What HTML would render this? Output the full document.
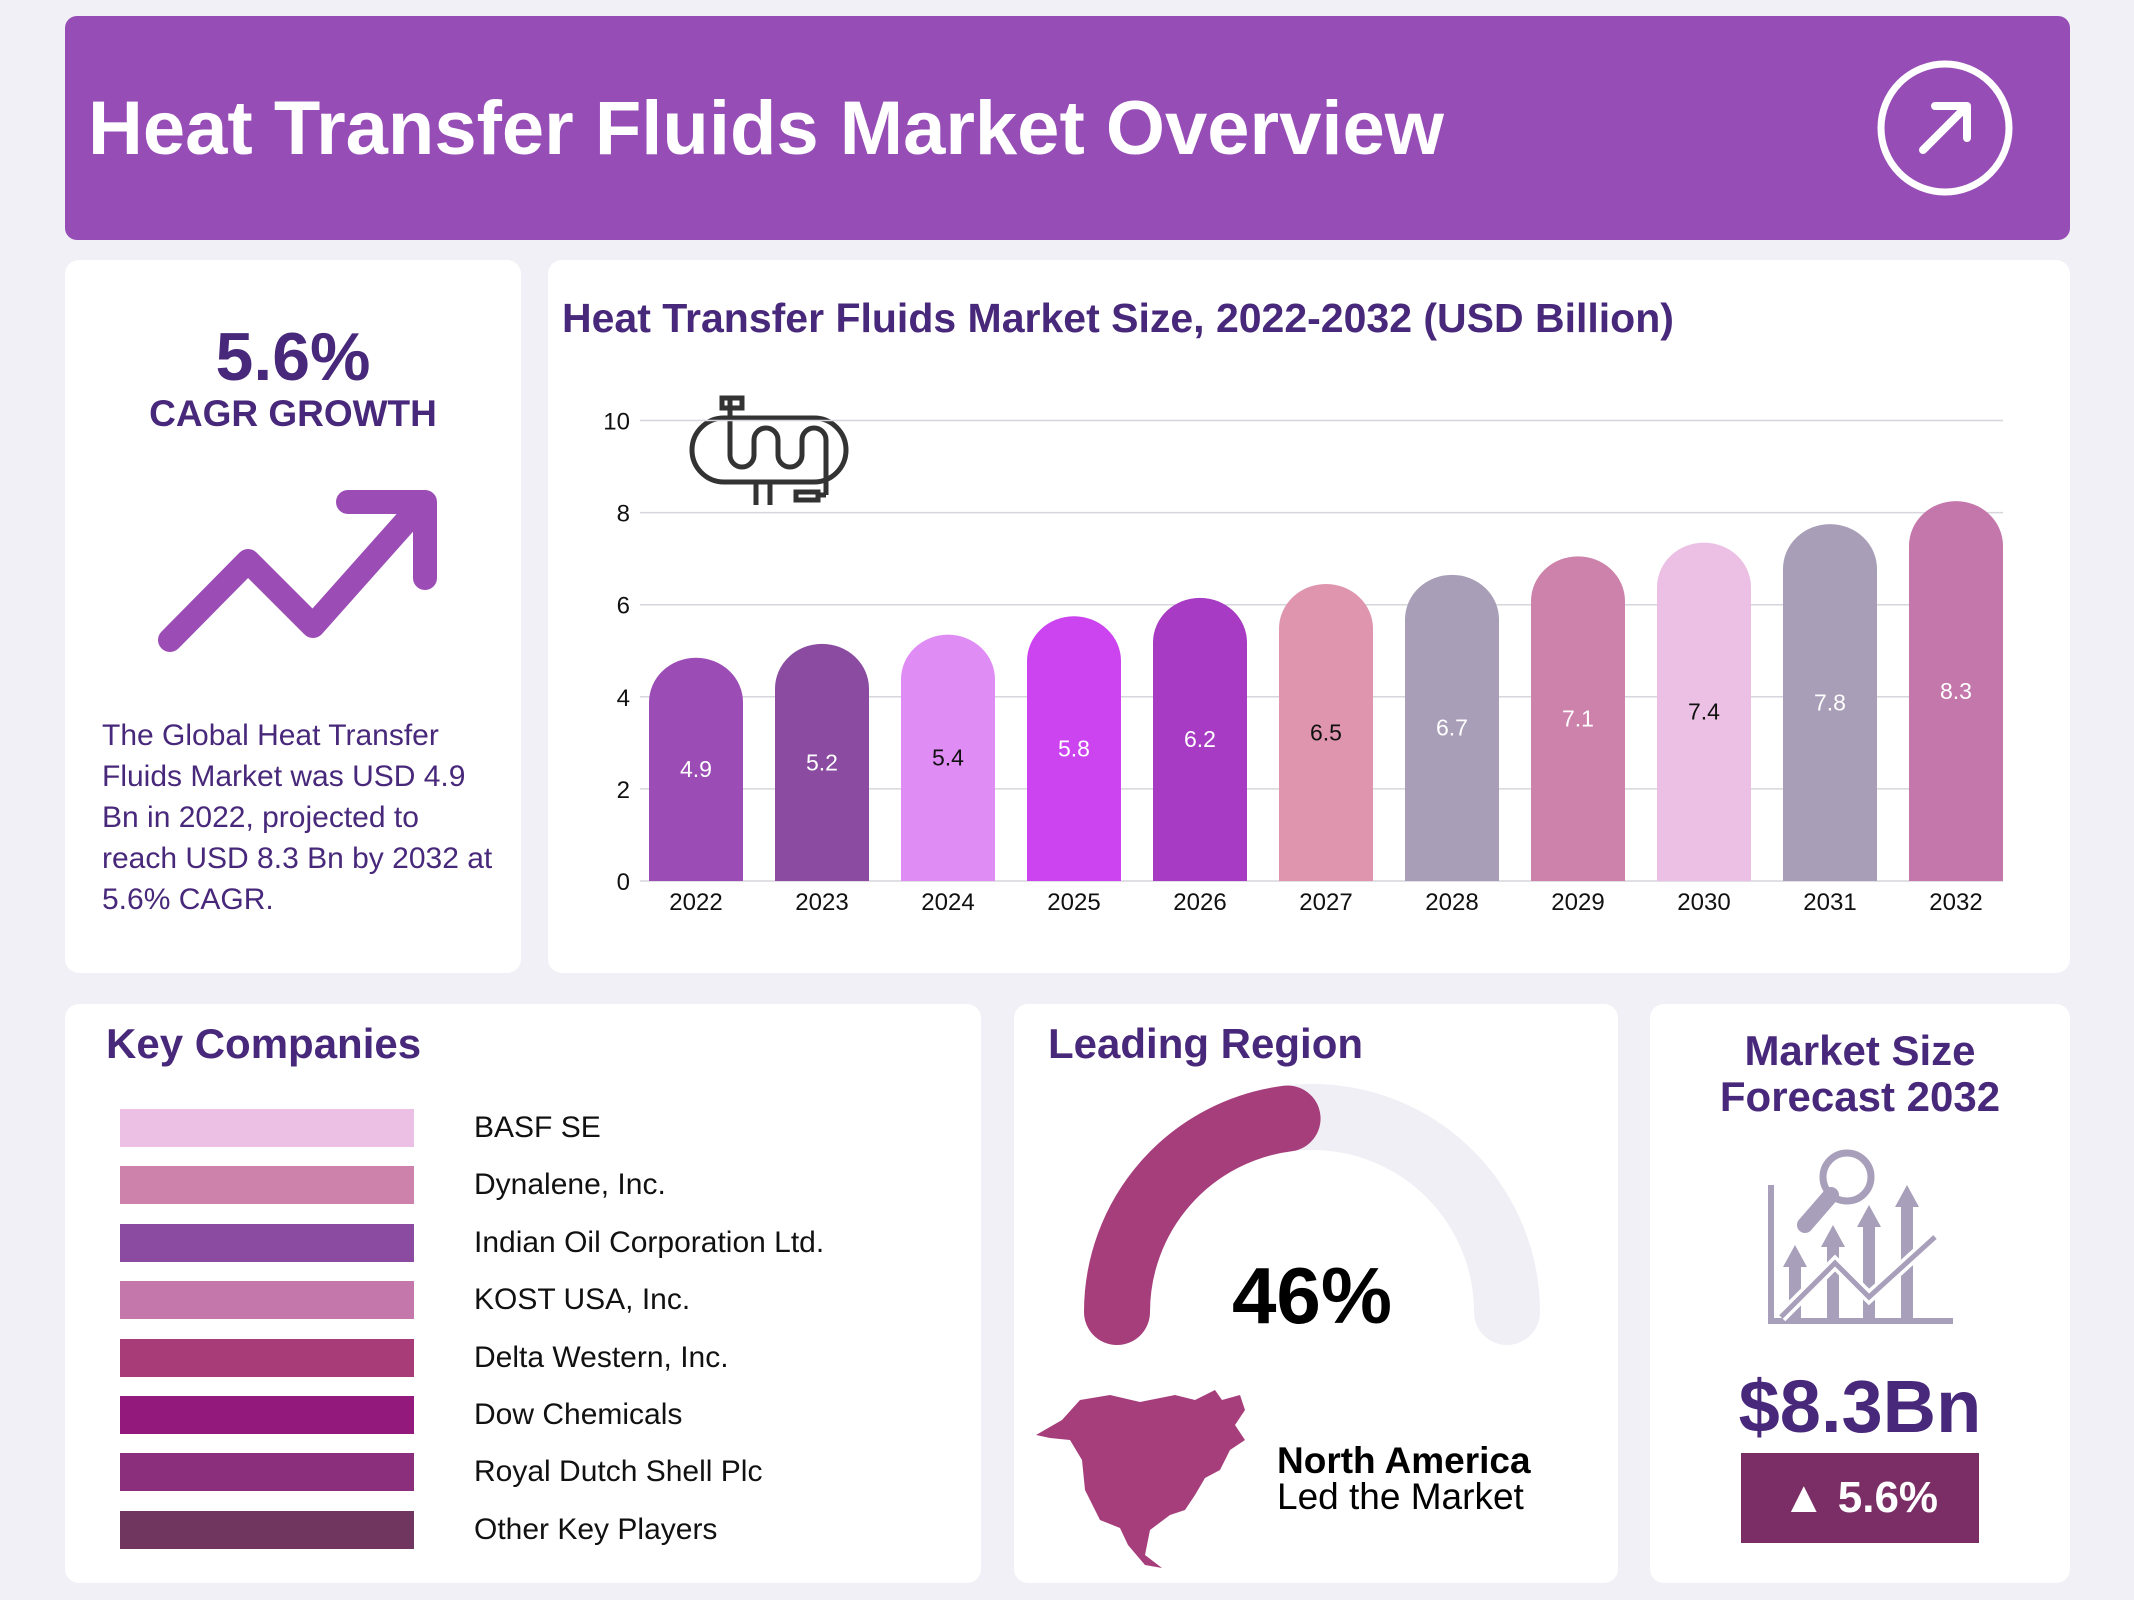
<!DOCTYPE html>
<html><head><meta charset="utf-8"><style>
body{margin:0;width:2134px;height:1600px;background:#f1f0f6;font-family:"Liberation Sans",sans-serif;position:relative;overflow:hidden}
.p{position:absolute;background:#fff;border-radius:14px}
.t{position:absolute;white-space:nowrap}
</style></head><body>
<div class="p" style="left:65px;top:16px;width:2005px;height:224px;background:#974db6;border-radius:12px"></div>
<div class="t" style="left:88px;top:84px;font-size:76px;font-weight:bold;color:#fff;line-height:90px">Heat Transfer Fluids Market Overview</div>
<svg style="position:absolute;left:1875px;top:58px" width="140" height="140"><circle cx="70" cy="70" r="64" fill="none" stroke="#fff" stroke-width="7"/><path d="M48 92 L92 48 M60 48 H92 V80" fill="none" stroke="#fff" stroke-width="8" stroke-linecap="round" stroke-linejoin="round"/></svg>

<div class="p" style="left:65px;top:260px;width:456px;height:713px"></div>
<div class="t" style="left:65px;width:456px;text-align:center;top:318px;font-size:68px;font-weight:bold;color:#48287a">5.6%</div>
<div class="t" style="left:65px;width:456px;text-align:center;top:393px;font-size:37px;font-weight:bold;color:#48287a">CAGR GROWTH</div>
<svg style="position:absolute;left:0;top:0" width="521" height="700"><polyline points="170,640 248,561 313,626 410,517" fill="none" stroke="#9b4db5" stroke-width="24" stroke-linecap="round" stroke-linejoin="round"/><path d="M348 502 H425 V578" fill="none" stroke="#9b4db5" stroke-width="24" stroke-linecap="round" stroke-linejoin="round"/></svg>
<div style="position:absolute;left:102px;top:715px;width:395px;font-size:30px;line-height:41px;color:#48287a">The Global Heat Transfer Fluids Market was USD 4.9 Bn in 2022, projected to reach USD 8.3 Bn by 2032 at 5.6% CAGR.</div>

<div class="p" style="left:548px;top:260px;width:1522px;height:713px"></div>
<div class="t" style="left:562px;top:295px;font-size:41px;font-weight:bold;color:#48287a">Heat Transfer Fluids Market Size, 2022-2032 (USD Billion)</div>
<svg id="chart" style="position:absolute;left:0;top:0" width="2134" height="980">
<g fill="none" stroke="#333" stroke-width="5">
<rect x="692" y="418" width="154" height="64" rx="32"/><path d="M730 400 V455 a12 12 0 0 0 24 0 V440 a12 12 0 0 1 24 0 V455 a12 12 0 0 0 24 0 V440 a12 12 0 0 1 24 0 V495"/><rect x="722" y="398" width="20" height="10"/><path d="M756 482 V505 M770 482 V505 M826 495 H818"/><rect x="796" y="492" width="22" height="8"/></g>
</svg>

<div class="p" style="left:65px;top:1004px;width:916px;height:579px"></div>
<div class="t" style="left:106px;top:1020px;font-size:42px;font-weight:bold;color:#48287a">Key Companies</div>
<div id="companies"></div>

<div class="p" style="left:1014px;top:1004px;width:604px;height:579px"></div>
<div class="t" style="left:1048px;top:1020px;font-size:42px;font-weight:bold;color:#48287a">Leading Region</div>
<svg style="position:absolute;left:0;top:0" width="2134" height="1600">
<path d="M1117 1312 A195 195 0 0 1 1507 1312" fill="none" stroke="#f0eff5" stroke-width="66" stroke-linecap="round"/>
<path id="gaugeArc" fill="none" stroke="#a63e7b" stroke-width="66" stroke-linecap="round"/>
<path fill="#a63e7b" d="M1036 1435 L1062 1420 L1080 1400 L1110 1395 L1140 1402 L1175 1395 L1195 1400 L1215 1390 L1222 1400 L1240 1395 L1245 1410 L1235 1425 L1245 1440 L1230 1450 L1220 1470 L1205 1478 L1195 1495 L1185 1510 L1170 1515 L1150 1530 L1145 1555 L1162 1568 L1145 1565 L1128 1545 L1120 1528 L1100 1520 L1085 1490 L1082 1460 L1070 1440 L1050 1438 Z"/>
</svg>
<div class="t" style="left:1212px;width:200px;text-align:center;top:1250px;font-size:80px;font-weight:bold;color:#000">46%</div>
<div class="t" style="left:1277px;top:1440px;font-size:37px;font-weight:bold;color:#000">North America</div>
<div class="t" style="left:1277px;top:1476px;font-size:37px;color:#000">Led the Market</div>

<div class="p" style="left:1650px;top:1004px;width:420px;height:579px"></div>
<div class="t" style="left:1650px;width:420px;text-align:center;top:1028px;font-size:42px;font-weight:bold;color:#48287a;line-height:46px">Market Size<br>Forecast 2032</div>
<svg style="position:absolute;left:1765px;top:1145px" width="195" height="182" fill="#a89fba" stroke="#a89fba">
<path d="M6 40 V176 H188" fill="none" stroke-width="6"/><circle cx="82" cy="32" r="24" fill="none" stroke-width="7"/><path d="M66 50 L40 80" stroke-width="16" stroke-linecap="round"/>
<path d="M30 176 V120 M68 176 V100 M104 176 V80 M142 176 V60" stroke-width="12"/><path d="M18 122 L30 100 L42 122Z M56 102 L68 80 L80 102Z M92 82 L104 60 L116 82Z M130 62 L142 40 L154 62Z" stroke="none"/>
<polyline points="16,172 70,118 104,152 170,92" fill="none" stroke="#fff" stroke-width="12"/><polyline points="16,172 70,118 104,152 170,92" fill="none" stroke-width="5"/></svg>
<div class="t" style="left:1650px;width:420px;text-align:center;top:1364px;font-size:74px;font-weight:bold;color:#48287a">$8.3Bn</div>
<div style="position:absolute;left:1741px;top:1453px;width:238px;height:90px;background:#7b2d65;color:#fff;font-size:44px;font-weight:bold;line-height:90px;text-align:center">▲ 5.6%</div>

<script>
const years=["2022","2023","2024","2025","2026","2027","2028","2029","2030","2031","2032"];
const values=[4.9,5.2,5.4,5.8,6.2,6.5,6.7,7.1,7.4,7.8,8.3];
const yTicks=[0,2,4,6,8,10];
const barColors=["#9b4db5","#8a4ba0","#e08cf5","#cc44f0","#a83bc4","#de95ad","#a89eb8","#cc82aa","#ecc0e5","#a89eb8","#c477ab"];
const darkLabel=[false,false,true,false,false,true,false,false,true,false,false];
const companies=["BASF SE","Dynalene, Inc.","Indian Oil Corporation Ltd.","KOST USA, Inc.","Delta Western, Inc.","Dow Chemicals","Royal Dutch Shell Plc","Other Key Players"];
const companyColors=["#ecc0e5","#cc82aa","#8a4ba0","#c477ab","#a83c78","#931a7c","#8b2f7c","#70365f"];
const regionShare=46;

const NS="http://www.w3.org/2000/svg",svg=document.getElementById('chart');
const y=v=>881-v*46.05, x=i=>649+i*126, bw=94;
function mk(t,a){const e=document.createElementNS(NS,t);for(const k in a)e.setAttribute(k,a[k]);svg.appendChild(e);return e;}
yTicks.forEach(t=>{
 const l=mk('line',{x1:640,x2:2003,y1:y(t),y2:y(t),stroke:'#d6d6dc','stroke-width':1.5});
 
 
 const tx=mk('text',{x:630,y:y(t)+9,'text-anchor':'end','font-size':24,fill:'#111'});tx.textContent=t;
 
 
});
values.forEach((v,i)=>{
 const x0=x(i),top=y(v),r=bw/2,b=y(0);
 const p=mk('path',{d:`M${x0} ${b} V${top+r} A${r} ${r*0.95} 0 0 1 ${x0+bw} ${top+r} V${b} Z`,fill:barColors[i]});
 
 
 const vl=mk('text',{x:x0+bw/2,y:y(v/2)+9,'text-anchor':'middle','font-size':23,fill:darkLabel[i]?'#111':'#fff'});vl.textContent=v;
 
 
 const xl=mk('text',{x:x0+bw/2,y:910,'text-anchor':'middle','font-size':24,fill:'#111'});xl.textContent=years[i];
 
 
});
const c=document.getElementById('companies');
companies.forEach((n,i)=>{
 const yy=1128+i*57.4;
 const s=document.createElement('div');s.style.cssText=`position:absolute;left:120px;top:${yy-19}px;width:294px;height:38px;background:${companyColors[i]}`;
 
 
 const t=document.createElement('div');t.className='t';t.style.cssText=`left:474px;top:${yy-18}px;font-size:30px;color:#111;line-height:36px`;t.textContent=n;
 
 
 c.appendChild(s);c.appendChild(t);
});
const a=Math.PI*(1-regionShare/100),cx=1312,cy=1312,R=195;
document.getElementById('gaugeArc').setAttribute('d',`M${cx-R} ${cy} A${R} ${R} 0 0 1 ${cx+R*Math.cos(a)} ${cy-R*Math.sin(a)}`);
</script>
</body></html>
